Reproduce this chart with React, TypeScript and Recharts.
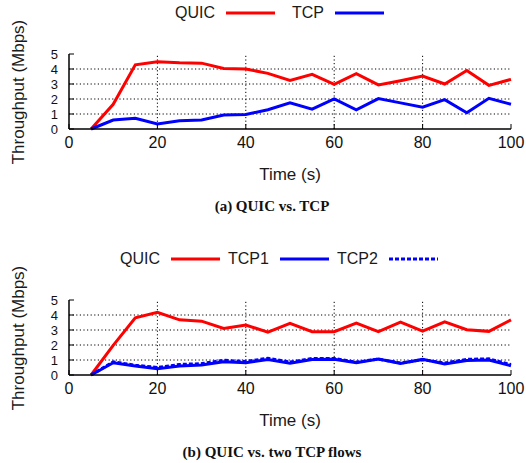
import React from 'react'
import { LineChart, Line, XAxis, YAxis, ReferenceLine } from 'recharts'

const TIME = [5, 10, 15, 20, 25, 30, 35, 40, 45, 50, 55, 60, 65, 70, 75, 80, 85, 90, 95, 100]
const X_TICKS = [0, 20, 40, 60, 80, 100]
const Y_TICKS = [0, 1, 2, 3, 4, 5]
const X_GRID = [20, 40, 60, 80]
const Y_GRID = [1, 2, 3, 4]

// (a) QUIC vs. TCP
const QUIC_A = [0, 1.65, 4.28, 4.48, 4.41, 4.39, 4.04, 4.0, 3.71, 3.24, 3.64, 2.98, 3.69, 2.94, 3.22, 3.53, 3.0, 3.9, 2.91, 3.31]
const TCP_A = [0, 0.6, 0.71, 0.33, 0.55, 0.6, 0.93, 0.97, 1.28, 1.74, 1.32, 2.0, 1.28, 2.03, 1.74, 1.46, 1.96, 1.08, 2.05, 1.65]

// (b) QUIC vs. two TCP flows
const QUIC_B = [0, 1.98, 3.81, 4.18, 3.68, 3.59, 3.1, 3.33, 2.86, 3.44, 2.89, 2.89, 3.46, 2.89, 3.52, 2.93, 3.55, 3.02, 2.91, 3.68]
const TCP1_B = [0, 0.82, 0.6, 0.42, 0.6, 0.67, 0.89, 0.82, 1.04, 0.78, 1.04, 1.05, 0.81, 1.06, 0.77, 1.04, 0.73, 0.97, 1.0, 0.62]
const TCP2_B = [0, 0.88, 0.65, 0.5, 0.7, 0.76, 0.98, 0.9, 1.12, 0.86, 1.1, 1.1, 0.86, 1.06, 0.8, 1.02, 0.8, 1.04, 1.08, 0.7]

const RED = '#ff0000'
const BLUE = '#0000ff'
const SANS = '"Liberation Sans", Arial, sans-serif'

interface SeriesDef {
  key: string
  name: string
  color: string
  values: number[]
  dash?: string
}

interface PanelProps {
  top: number
  series: SeriesDef[]
  legendLeft: number
  legendGap: number
  caption: string
}

const W = 526
const H = 232
const PLOT_TOP = 54
const PLOT_BOTTOM = 129

function Panel({ top, series, legendLeft, legendGap, caption }: PanelProps) {
  const data = TIME.map((t, i) => {
    const row: Record<string, number> = { t }
    series.forEach(s => { row[s.key] = s.values[i] })
    return row
  })

  return (
    <div style={{ position: 'absolute', left: 0, top, width: W, height: H }}>
      {/* legend */}
      <div style={{ position: 'absolute', left: legendLeft, top: 4, display: 'flex', alignItems: 'center', fontFamily: SANS, fontSize: 16, color: '#1a1a1a', whiteSpace: 'nowrap' }}>
        {series.map(s => (
          <div key={s.key} style={{ display: 'flex', alignItems: 'center', marginRight: legendGap }}>
            <span>{s.name}</span>
            <svg width={60} height={6}>
              <line x1={11} x2={60} y1={3} y2={3} stroke={s.color} strokeWidth={3} strokeDasharray={s.dash} />
            </svg>
          </div>
        ))}
      </div>

      <div style={{ position: 'absolute', left: 0, top: 0 }}>
        <LineChart width={W} height={H} data={data} margin={{ top: PLOT_TOP, right: 15, left: 0, bottom: H - PLOT_BOTTOM - 30 }}>
          {Y_GRID.map(v => (
            <ReferenceLine key={'y' + v} y={v} stroke="#000" strokeWidth={1} strokeDasharray="1.2 2.4" />
          ))}
          {X_GRID.map(v => (
            <ReferenceLine key={'x' + v} x={v} stroke="#000" strokeWidth={1} strokeDasharray="1.2 2.4" />
          ))}
          <XAxis
            dataKey="t"
            type="number"
            domain={[0, 100]}
            ticks={X_TICKS}
            interval={0}
            height={30}
            tickSize={-5}
            tickMargin={13}
            axisLine={{ stroke: '#000', strokeWidth: 1.5 }}
            tickLine={{ stroke: '#000' }}
            tick={{ fontSize: 16, fill: '#111', fontFamily: SANS }}
          />
          <XAxis
            xAxisId="top"
            orientation="top"
            dataKey="t"
            type="number"
            domain={[0, 100]}
            ticks={X_TICKS}
            interval={0}
            height={0}
            tickSize={-5}
            axisLine={{ stroke: '#000', strokeWidth: 1.5 }}
            tickLine={{ stroke: '#000' }}
            tick={false}
          />
          <YAxis
            type="number"
            domain={[0, 5]}
            ticks={Y_TICKS}
            interval={0}
            width={69}
            tickSize={-5}
            tickMargin={16}
            axisLine={{ stroke: '#000', strokeWidth: 1.5 }}
            tickLine={{ stroke: '#000' }}
            tick={{ fontSize: 13, fill: '#111', fontFamily: SANS }}
          />
          <YAxis
            yAxisId="right"
            orientation="right"
            type="number"
            domain={[0, 5]}
            ticks={Y_TICKS}
            interval={0}
            width={0}
            tickSize={-5}
            axisLine={{ stroke: '#000', strokeWidth: 1.5 }}
            tickLine={{ stroke: '#000' }}
            tick={false}
          />
          {series.map(s => (
            <Line
              key={s.key}
              dataKey={s.key}
              stroke={s.color}
              strokeWidth={3}
              strokeDasharray={s.dash}
              dot={false}
              isAnimationActive={false}
            />
          ))}
        </LineChart>
      </div>

      {/* y axis title */}
      <div style={{ position: 'absolute', left: 19, top: (PLOT_TOP + PLOT_BOTTOM) / 2, transform: 'translate(-50%, -50%) rotate(-90deg)', fontFamily: SANS, fontSize: 17, color: '#1a1a1a', whiteSpace: 'nowrap' }}>
        Throughput (Mbps)
      </div>

      {/* x axis title */}
      <div style={{ position: 'absolute', left: 290, top: 175, transform: 'translate(-50%, -50%)', fontFamily: SANS, fontSize: 17, color: '#1a1a1a', whiteSpace: 'nowrap' }}>
        Time (s)
      </div>

      {/* caption */}
      <div style={{ position: 'absolute', left: 272, top: 206, transform: 'translate(-50%, -50%)', fontFamily: '"Liberation Serif", serif', fontWeight: 'bold', fontSize: 15, color: '#111', whiteSpace: 'nowrap' }}>
        {caption}
      </div>
    </div>
  )
}

export default function App() {
  return (
    <div style={{ position: 'absolute', left: 0, top: 0, width: W, height: 463, overflow: 'hidden', background: '#fff' }}>
      <Panel
        top={0}
        legendLeft={175}
        legendGap={17}
        caption="(a) QUIC vs. TCP"
        series={[
          { key: 'quic', name: 'QUIC', color: RED, values: QUIC_A },
          { key: 'tcp', name: 'TCP', color: BLUE, values: TCP_A },
        ]}
      />
      <Panel
        top={246}
        legendLeft={120}
        legendGap={8}
        caption="(b) QUIC vs. two TCP flows"
        series={[
          { key: 'quic', name: 'QUIC', color: RED, values: QUIC_B },
          { key: 'tcp1', name: 'TCP1', color: BLUE, values: TCP1_B },
          { key: 'tcp2', name: 'TCP2', color: BLUE, values: TCP2_B, dash: '4 2' },
        ]}
      />
    </div>
  )
}
